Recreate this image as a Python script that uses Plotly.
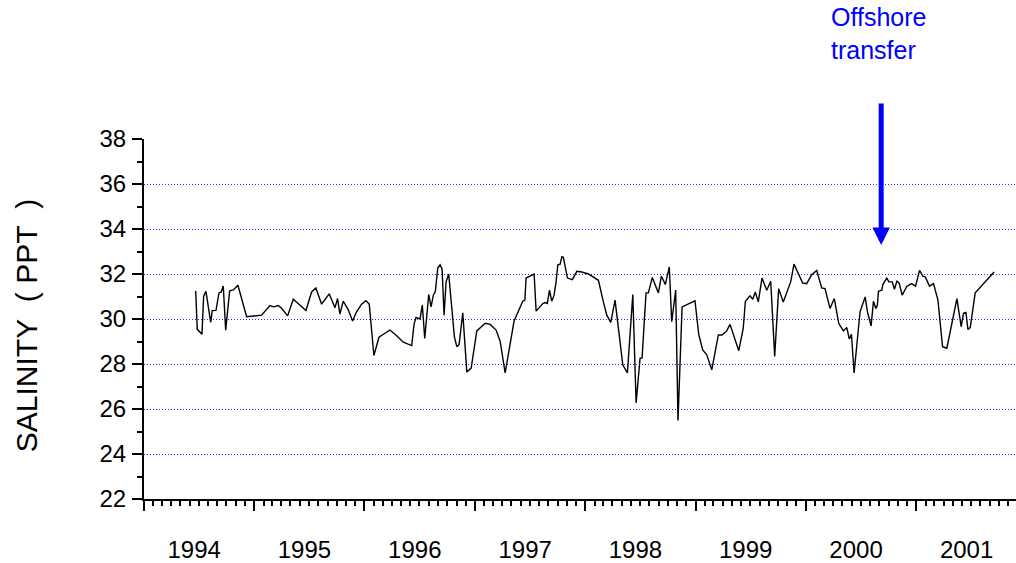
import plotly.graph_objects as go
import pandas as pd

# Decimal-year sample times and salinity (ppt) values
years = [
    1994.469, 1994.483, 1994.526, 1994.541, 1994.562, 1994.605, 1994.619, 1994.653, 1994.680, 1994.701,
    1994.719, 1994.741, 1994.777, 1994.810, 1994.852, 1994.931, 1995.067, 1995.142, 1995.176, 1995.218,
    1995.248, 1995.303, 1995.354, 1995.469, 1995.520, 1995.559, 1995.611, 1995.680, 1995.732, 1995.756,
    1995.777, 1995.807, 1995.852, 1995.892, 1995.928, 1995.974, 1996.013, 1996.043, 1996.085, 1996.131,
    1996.230, 1996.291, 1996.351, 1996.427, 1996.448, 1996.466, 1996.502, 1996.523, 1996.545, 1996.581,
    1996.602, 1996.623, 1996.641, 1996.663, 1996.684, 1996.702, 1996.720, 1996.738, 1996.762, 1996.813,
    1996.835, 1996.856, 1996.889, 1996.926, 1996.965, 1997.016, 1997.092, 1997.137, 1997.191, 1997.228,
    1997.273, 1997.354, 1997.433, 1997.452, 1997.463, 1997.536, 1997.554, 1997.615, 1997.636, 1997.656,
    1997.675, 1997.696, 1997.717, 1997.735, 1997.751, 1997.772, 1997.787, 1997.801, 1997.838, 1997.883,
    1997.923, 1997.968, 1998.028, 1998.073, 1998.119, 1998.164, 1998.195, 1998.231, 1998.270, 1998.340,
    1998.382, 1998.431, 1998.461, 1998.497, 1998.515, 1998.551, 1998.572, 1998.608, 1998.663, 1998.690,
    1998.726, 1998.762, 1998.784, 1998.820, 1998.841, 1998.878, 1998.995, 1999.029, 1999.065, 1999.102,
    1999.147, 1999.207, 1999.240, 1999.283, 1999.313, 1999.392, 1999.433, 1999.452, 1999.470, 1999.494,
    1999.519, 1999.542, 1999.569, 1999.603, 1999.646, 1999.682, 1999.718, 1999.754, 1999.796, 1999.863,
    1999.893, 1999.972, 2000.008, 2000.054, 2000.099, 2000.144, 2000.174, 2000.219, 2000.258, 2000.298,
    2000.340, 2000.371, 2000.394, 2000.413, 2000.437, 2000.491, 2000.537, 2000.558, 2000.591, 2000.612,
    2000.634, 2000.648, 2000.657, 2000.688, 2000.697, 2000.733, 2000.752, 2000.782, 2000.802, 2000.824,
    2000.845, 2000.872, 2000.915, 2000.957, 2000.993, 2001.029, 2001.060, 2001.081, 2001.120, 2001.156,
    2001.196, 2001.238, 2001.277, 2001.323, 2001.368, 2001.407, 2001.428, 2001.450, 2001.468, 2001.489,
    2001.534, 2001.706,
]
salinity = [
    31.25, 29.54, 29.32, 31.01, 31.23, 29.85, 30.37, 30.38, 31.16, 31.20,
    31.47, 29.50, 31.25, 31.29, 31.50, 30.10, 30.17, 30.60, 30.54, 30.60,
    30.48, 30.14, 30.88, 30.38, 31.20, 31.38, 30.66, 31.12, 30.50, 30.91,
    30.22, 30.79, 30.42, 29.91, 30.32, 30.66, 30.81, 30.66, 28.38, 29.19,
    29.51, 29.26, 28.97, 28.82, 29.76, 30.07, 30.00, 30.62, 29.14, 31.09,
    30.54, 31.06, 31.23, 32.28, 32.41, 32.21, 30.17, 31.65, 32.00, 29.22,
    28.77, 28.87, 30.27, 27.64, 27.82, 29.47, 29.81, 29.76, 29.51, 29.00,
    27.60, 29.91, 30.79, 30.84, 31.82, 32.00, 30.35, 30.69, 30.73, 30.69,
    31.28, 30.79, 31.06, 31.65, 32.41, 32.44, 32.77, 32.74, 31.82, 31.75,
    32.12, 32.09, 32.00, 31.87, 31.72, 30.76, 30.17, 29.85, 30.84, 27.96,
    27.60, 31.09, 26.27, 28.26, 28.26, 31.16, 31.16, 31.85, 31.16, 31.91,
    31.53, 32.31, 29.88, 31.29, 25.49, 30.54, 30.81, 29.32, 28.63, 28.41,
    27.74, 29.29, 29.29, 29.47, 29.76, 28.59, 29.59, 30.79, 30.88, 31.03,
    30.88, 31.20, 30.76, 31.82, 31.28, 31.68, 28.33, 31.35, 30.76, 31.65,
    32.44, 31.60, 31.57, 31.97, 32.16, 31.38, 31.35, 30.47, 30.91, 29.81,
    29.47, 29.62, 29.11, 29.32, 27.60, 30.32, 30.98, 30.32, 29.69, 30.79,
    30.47, 30.62, 31.23, 31.28, 31.53, 31.82, 31.65, 31.65, 31.32, 31.68,
    31.59, 31.06, 31.46, 31.57, 31.46, 32.16, 31.90, 31.87, 31.46, 31.57,
    30.84, 28.77, 28.70, 29.88, 30.91, 29.66, 30.25, 30.29, 29.54, 29.62,
    31.16, 32.09,
]

y_ticks = [22, 24, 26, 28, 30, 32, 34, 36, 38]
x_start, x_end = "1994-01-01", "2001-11-27"
transfer_year = 2000.682
transfer_salinity = 33.29
label_year = 2000.208


def to_date(y):
    yr = int(y)
    start = pd.Timestamp(year=yr, month=1, day=1)
    days = (pd.Timestamp(year=yr + 1, month=1, day=1) - start).days
    return start + pd.Timedelta(days=(y - yr) * days)


dates = [to_date(y) for y in years]

FONT = "Arial, 'Liberation Sans', Helvetica, sans-serif"

fig = go.Figure()
fig.add_trace(go.Scatter(
    x=dates, y=salinity, mode="lines",
    line=dict(color="black", width=1.4),
    showlegend=False,
))

fig.update_layout(
    width=1016, height=563,
    margin=dict(l=144, r=0, t=139, b=62),
    paper_bgcolor="white", plot_bgcolor="white",
    font=dict(family=FONT, size=24, color="black"),
    xaxis=dict(
        type="date", range=[x_start, x_end],
        tick0="1994-01-01", dtick="M12", tickformat="%Y",
        ticklabelmode="period", ticklabelshift=-5,
        ticks="outside", ticklen=10, tickwidth=1.5, tickcolor="black",
        showline=True, linecolor="black", linewidth=2,
        showgrid=False, zeroline=False,
        ticklabelstandoff=18,
        minor=dict(dtick="M1", ticks="outside", ticklen=5, tickwidth=1.5,
                   tickcolor="black", showgrid=False),
        tickfont=dict(size=24),
    ),
    yaxis=dict(
        range=[22, 38], tickmode="array", tickvals=y_ticks,
        ticks="outside", ticklen=10, tickwidth=1.5, tickcolor="black",
        showline=True, linecolor="black", linewidth=2,
        showgrid=True, gridcolor="#2a2aff", gridwidth=1, griddash="1px,2px",
        zeroline=False,
        ticklabelstandoff=1,
        minor=dict(dtick=1, tick0=22, ticks="outside", ticklen=5, tickwidth=1.5,
                   tickcolor="black", showgrid=False),
        tickfont=dict(size=24),
    ),
)

# Y-axis title
fig.add_annotation(
    text="SALINITY\u00a0\u00a0(\u00a0PPT\u00a0\u00a0)",
    xref="paper", yref="paper", x=-0.1353, y=0.480,
    textangle=-90, showarrow=False,
    font=dict(family=FONT, size=30, color="black"),
    xanchor="center", yanchor="middle",
)

# Offshore transfer arrow
fig.add_annotation(
    x=to_date(transfer_year), y=transfer_salinity, xref="x", yref="y",
    text="", showarrow=True, ax=0, ay=-143,
    arrowhead=2, arrowsize=0.7, arrowwidth=5, arrowcolor="#0000ff",
    standoff=0,
)
fig.add_annotation(
    x=to_date(label_year), y=1.382, xref="x", yref="paper",
    text="Offshore<br>transfer", showarrow=False, align="left",
    xanchor="left", yanchor="top",
    font=dict(family=FONT, size=25, color="#0000ff"),
)

fig.write_html(
    "out.html",
    config={"displayModeBar": False},
    post_script="document.body.style.margin='0';",
)
